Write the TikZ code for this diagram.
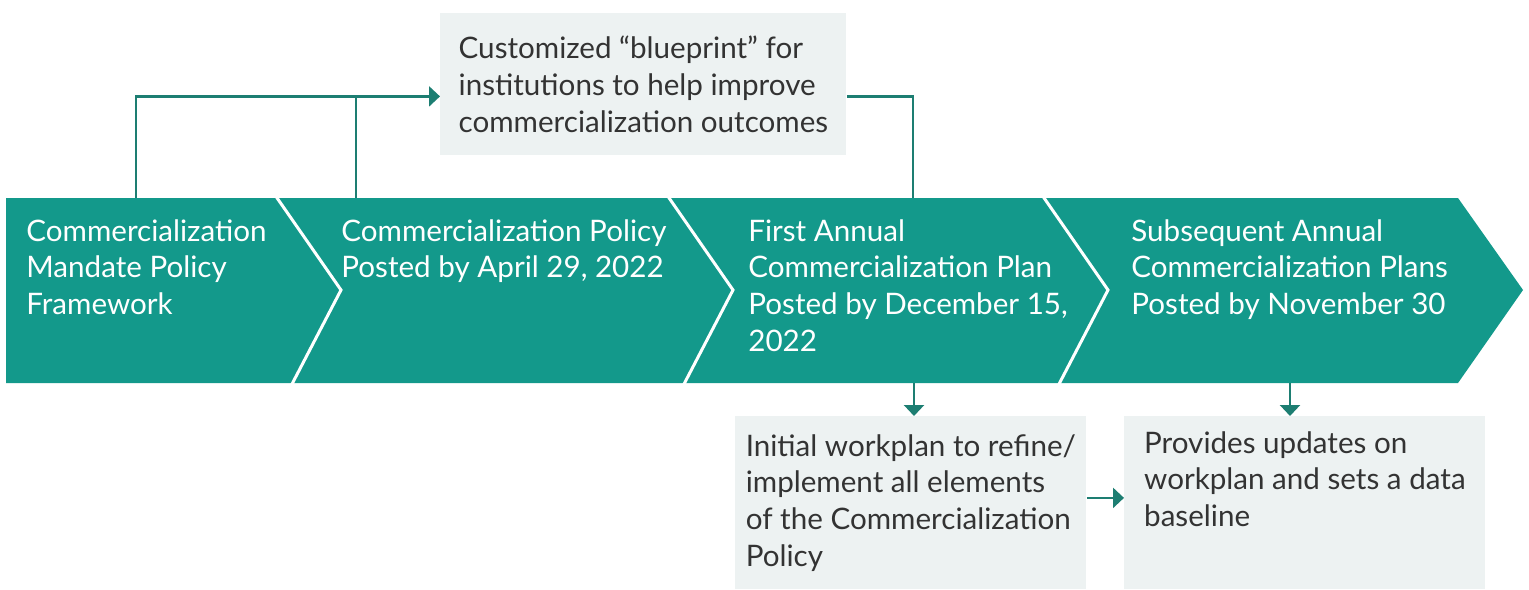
\documentclass[tikz,border=0pt]{standalone}
\usepackage{fontspec}
\setmainfont{Lato}
\usetikzlibrary{arrows.meta}
\definecolor{bandteal}{HTML}{13998B}
\definecolor{linkteal}{HTML}{1D7E72}
\definecolor{notegray}{HTML}{EDF2F2}
\definecolor{inkgray}{HTML}{333333}
\tikzset{
  stage/.style={anchor=base west, align=left, text=white, inner sep=0pt},
  note/.style={anchor=north west, fill=notegray, text=inkgray, align=left, inner sep=0pt},
  link/.style={line width=1.2pt, color=linkteal},
  arrowlink/.style={link, -{Triangle[width=10pt, length=5.5pt]}},
  sep/.style={white, line width=1.5pt},
  every node/.append style={font=\fontsize{14.8}{18.35}\selectfont}
}

\begin{document}
\begin{tikzpicture}[x=0.5pt, y=-0.5pt]
\useasboundingbox (0,0) rectangle (1529,589);
\fill[bandteal] (6,198) -- (1458,198) -- (1523,290) -- (1458,383) -- (6,383) -- cycle;
\foreach \x in {275,667,1042} {\draw[sep] (\x,195) -- (\x+66,290) -- (\x+16,386);}
\node[stage] (mandate) at (26,314.4) {Commercialization\\Mandate Policy\\Framework};
\node[stage] (policy) at (341,277.7) {Commercialization Policy\\Posted by April 29, 2022};
\node[stage] (firstplan) at (748,351.1) {First Annual\\Commercialization Plan\\Posted by December 15,\\2022};
\node[stage] (laterplans) at (1131,314.4) {Subsequent Annual\\Commercialization Plans\\Posted by November 30};
\node[note, minimum width=203pt, minimum height=71pt] (blueprint) at (440,13) {Customized “blueprint” for\\institutions to help improve\\commercialization outcomes};
\node[note, minimum width=175.5pt, minimum height=86.5pt] (wpA) at (735,416) {Initial workplan to refine/\\implement all elements\\of the Commercialization\\Policy};
\node[note, minimum width=180.5pt, minimum height=86.5pt] (wpB) at (1124,416) {Provides updates on\\workplan and sets a data\\baseline\\\strut};
\coordinate (m1) at (136,198);
\coordinate (m2) at (356,198);
\coordinate (m3) at (913,198);
\coordinate (bpin) at ([yshift=-6pt]blueprint.west);
\draw[arrowlink] (m1) |- (bpin);
\draw[link] (m2) -- (m2 |- bpin);
\draw[link] (bpin -| blueprint.east) -| (m3);
\coordinate (d1) at (914,383);
\coordinate (d2) at (1290,383);
\draw[arrowlink] (d1) -- (d1 |- wpA.north);
\draw[arrowlink] (d2) -- (d2 |- wpB.north);
\draw[arrowlink] ([yshift=2.5pt]wpA.east) -- ([yshift=2.5pt]wpB.west);
\end{tikzpicture}
\end{document}
